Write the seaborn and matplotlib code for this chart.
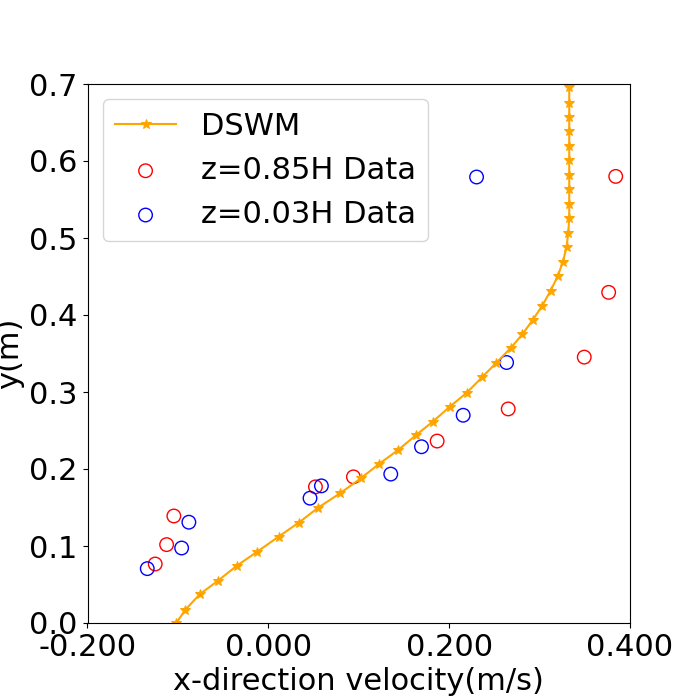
import numpy as np
import matplotlib
matplotlib.use('Agg')
import matplotlib.pyplot as plt
from matplotlib.ticker import FormatStrFormatter
import seaborn as sns

# DSWM profile
dswm_u = [-0.1018, -0.0918, -0.0760, -0.0557, -0.0347, -0.0121, 0.0114, 0.0339,
          0.0554, 0.0790, 0.1022, 0.1222, 0.1435, 0.1631, 0.1819, 0.2008,
          0.2196, 0.2365, 0.2517, 0.2680, 0.2808, 0.2926, 0.3029, 0.3122,
          0.3200, 0.3258, 0.3299, 0.3317, 0.3328, 0.3328, 0.3328, 0.3328,
          0.3328, 0.3328, 0.3328, 0.3328, 0.3328, 0.3328]
dswm_y = [0.0, 0.0172, 0.0371, 0.0549, 0.0745, 0.0927, 0.1122, 0.1305,
          0.1500, 0.1682, 0.1878, 0.2064, 0.2246, 0.2438, 0.2615, 0.2810,
          0.2992, 0.3193, 0.3375, 0.3570, 0.3747, 0.3939, 0.4120, 0.4316,
          0.4503, 0.4690, 0.4885, 0.5068, 0.5258, 0.5440, 0.5632, 0.5818,
          0.6010, 0.6195, 0.6387, 0.6570, 0.6750, 0.6956]

# measured data, z=0.85H
top_u = [-0.1251, -0.1125, -0.1045, 0.0521, 0.0941, 0.1867, 0.2653, 0.3494, 0.3764, 0.3842]
top_y = [0.0766, 0.1018, 0.1390, 0.1768, 0.1898, 0.2363, 0.2780, 0.3453, 0.4294, 0.5800]

# measured data, z=0.03H
bot_u = [-0.1339, -0.0959, -0.0879, 0.0461, 0.0587, 0.1354, 0.1694, 0.2155, 0.2635, 0.2303]
bot_y = [0.0706, 0.0974, 0.1309, 0.1621, 0.1781, 0.1934, 0.2289, 0.2698, 0.3383, 0.5792]

fs = 22

fig, ax = plt.subplots(figsize=(7, 7), dpi=100)

sns.lineplot(x=dswm_u, y=dswm_y, sort=False, estimator=None, color='orange',
             marker='*', markersize=7, markeredgecolor='orange', linewidth=1.5,
             label='DSWM', ax=ax)
sns.scatterplot(x=top_u, y=top_y, color='red', facecolor='none', edgecolor='red',
                s=95, linewidth=1.0, marker='o', label='z=0.85H Data', ax=ax)
sns.scatterplot(x=bot_u, y=bot_y, color='blue', facecolor='none', edgecolor='blue',
                s=95, linewidth=1.0, marker='o', label='z=0.03H Data', ax=ax)

ax.set_xlim(-0.2, 0.4)
ax.set_ylim(0, 0.7)
ax.set_xticks([-0.2, 0.0, 0.2, 0.4])
ax.xaxis.set_major_formatter(FormatStrFormatter('%.3f'))
ax.yaxis.set_major_formatter(FormatStrFormatter('%.1f'))
ax.tick_params(labelsize=fs)
ax.set_xlabel('x-direction velocity(m/s)', fontsize=fs)
ax.set_ylabel('y(m)', fontsize=fs)
ax.legend(loc='upper left', fontsize=fs)

fig.savefig('out.png', dpi=100)
